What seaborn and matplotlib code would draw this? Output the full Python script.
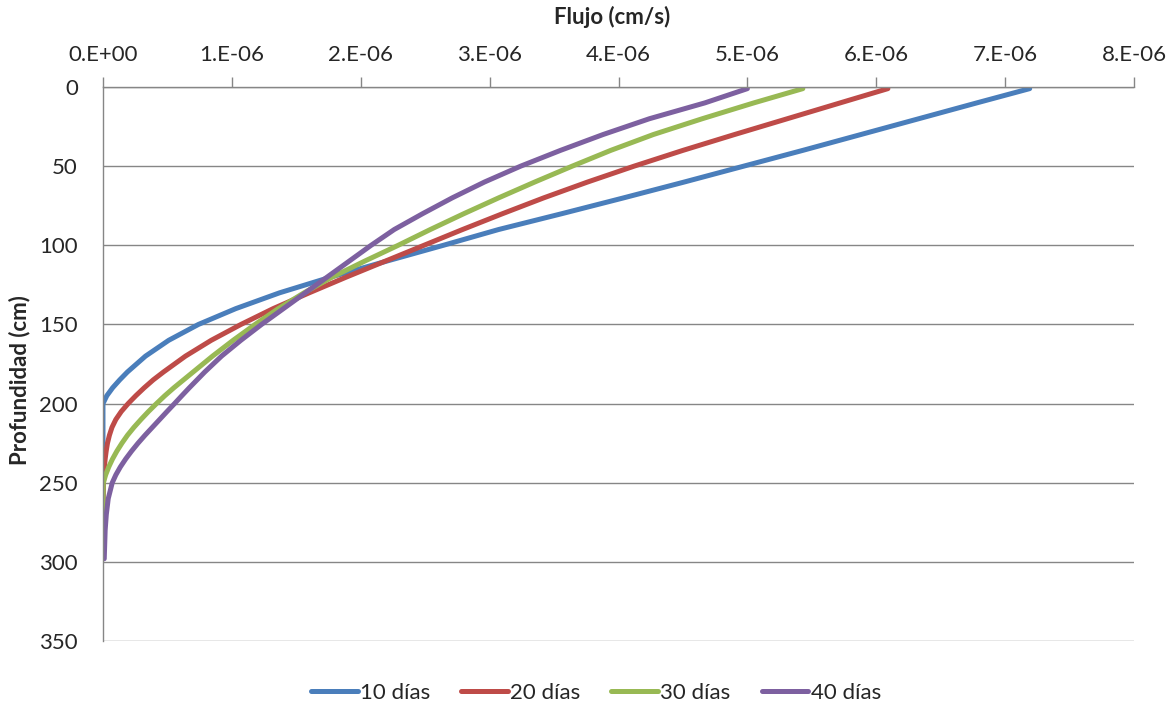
import pandas as pd
import matplotlib
matplotlib.use('Agg')
import matplotlib.pyplot as plt
import seaborn as sns
import numpy as np

#depth (cm) and flux values (x 1e-6 cm/s)
profundidad = [1, 10, 20, 30, 40, 50, 60, 70, 80, 90, 100, 110, 120, 130, 140, 150, 160, 170,
               180, 185, 190, 195, 200, 205, 210, 215, 220, 225, 230, 235, 240, 245, 250,
               260, 270, 280, 298]

flujo_10 = [7.19, 6.78, 6.33, 5.88, 5.43, 4.97, 4.51, 4.04, 3.56, 3.07, 2.64, 2.20, 1.77, 1.37,
            1.03, 0.74, 0.51, 0.33, 0.19, 0.13, 0.075, 0.03, 0.0, 0.0, 0.0, 0.0, 0.0, 0.0, 0.0,
            0.0, 0.0, 0.0, 0.0, 0.0, 0.0, 0.0, 0.0]
flujo_20 = [6.09, 5.72, 5.31, 4.90, 4.50, 4.12, 3.76, 3.42, 3.10, 2.79, 2.49, 2.19, 1.89, 1.60,
            1.32, 1.07, 0.84, 0.64, 0.47, 0.39, 0.32, 0.255, 0.195, 0.142, 0.1, 0.07, 0.05,
            0.035, 0.025, 0.017, 0.011, 0.007, 0.004, 0.001, 0.0, 0.0, 0.0]
flujo_30 = [5.43, 5.05, 4.65, 4.27, 3.94, 3.64, 3.35, 3.07, 2.80, 2.54, 2.29, 2.03, 1.78, 1.56,
            1.36, 1.18, 1.01, 0.85, 0.70, 0.625, 0.55, 0.48, 0.415, 0.353, 0.295, 0.24, 0.19, 0.147,
            0.108, 0.074, 0.045, 0.021, 0.003, 0.0, 0.0, 0.0, 0.0]
flujo_40 = [5.00, 4.67, 4.24, 3.88, 3.55, 3.24, 2.96, 2.71, 2.48, 2.26, 2.08, 1.91, 1.74, 1.57,
            1.40, 1.23, 1.07, 0.92, 0.79, 0.73, 0.67, 0.612, 0.555, 0.497, 0.44, 0.383, 0.326, 0.272,
            0.222, 0.176, 0.135, 0.1, 0.072, 0.041, 0.026, 0.017, 0.01]

series = ['10 días', '20 días', '30 días', '40 días']
colores = ['#4A7EBB', '#BE4B48', '#98B954', '#7D60A0']

#long form table for seaborn
frames = []
for name, vals in zip(series, [flujo_10, flujo_20, flujo_30, flujo_40]):
    frames.append(pd.DataFrame({'prof': profundidad, 'flujo': np.array(vals) * 1e-6, 'serie': name}))
df = pd.concat(frames, ignore_index=True)

sns.set_style('white')
plt.rcParams['font.family'] = ['Lato', 'DejaVu Sans']

fig = plt.figure(figsize=(11.74, 7.06), dpi=100)
ax = fig.add_axes([0.0877, 0.092, 0.8783, 0.7847])

sns.lineplot(data=df, x='flujo', y='prof', hue='serie', palette=colores, sort=False,
             estimator=None, linewidth=3.6, ax=ax, solid_capstyle='round')

ax.set_xlim(0, 8e-6)
ax.set_ylim(350, 0)
ax.set_xticks(np.arange(0, 9) * 1e-6)
ax.set_xticklabels(['0.E+00'] + ['%d.E-06' % i for i in range(1, 9)])
ax.set_yticks(np.arange(0, 351, 50))
ax.xaxis.tick_top()
ax.xaxis.set_label_position('top')
ax.tick_params(axis='x', direction='out', length=7, width=1, color='#868686', pad=9, labelsize=16)
ax.tick_params(axis='y', direction='out', length=7, width=1, color='#868686', pad=11, labelsize=16)
ax.grid(axis='y', color='#868686', linewidth=1)
ax.grid(axis='x', visible=False)
for s in ['right', 'bottom']:
    ax.spines[s].set_visible(False)
for s in ['left', 'top']:
    ax.spines[s].set_color('#868686')
    ax.spines[s].set_linewidth(1)

ax.set_xlabel('Flujo (cm/s)', fontsize=16, fontweight='bold', va='center')
ax.set_ylabel('Profundidad (cm)', fontsize=16, fontweight='bold', va='center')
ax.xaxis.set_label_coords(0.4937, 1.126)
ax.yaxis.set_label_coords(-0.0805, 0.471)

ax.legend(loc='upper center', bbox_to_anchor=(0.478, -0.04), ncol=4, frameon=False,
          fontsize=16, handlelength=2.1, handletextpad=0.1, columnspacing=1.4)

fig.savefig('out.png', dpi=100)
